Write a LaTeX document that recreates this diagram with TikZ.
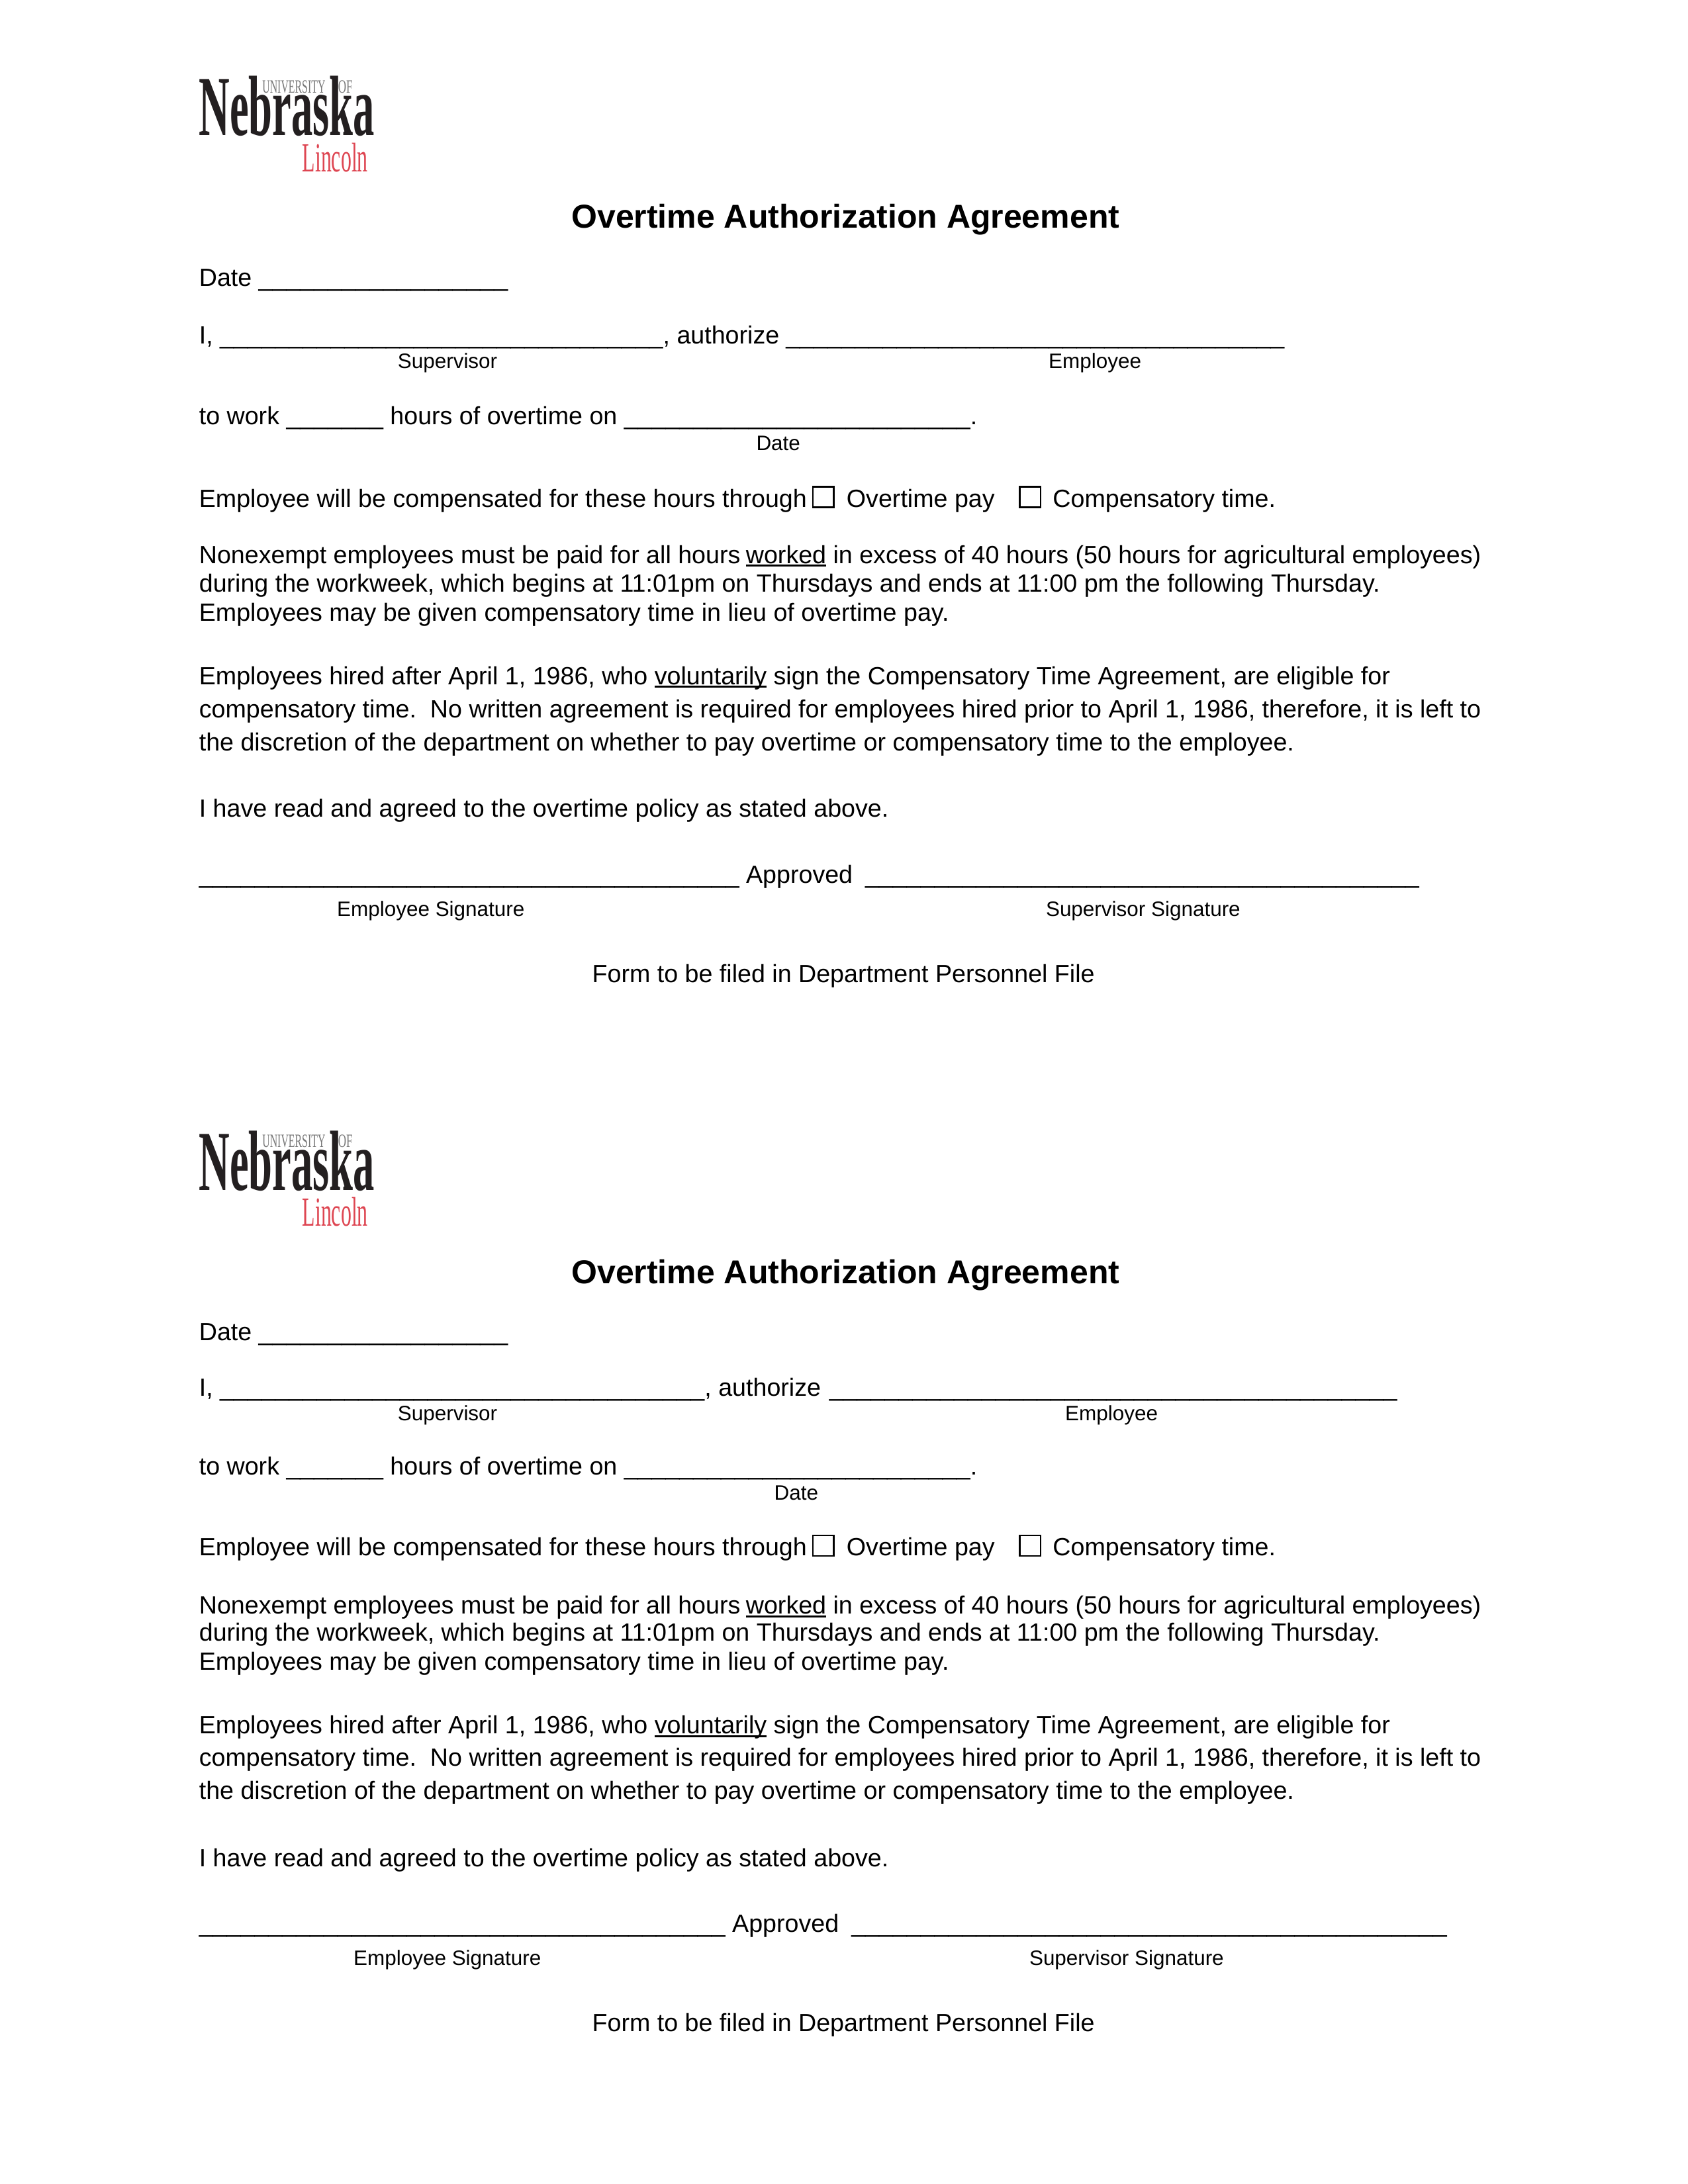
\documentclass[tikz,border=0pt]{standalone}
\usepackage{fontspec}
\setmainfont{Liberation Sans}
\newfontfamily\logofont{Liberation Serif}
\usetikzlibrary{positioning}
\definecolor{logored}{RGB}{222,70,82}
\definecolor{logogray}{RGB}{120,120,120}
\definecolor{logoblack}{RGB}{35,31,32}
\newcommand{\blanks}[1]{\foreach \i in {1,...,#1}{\_}}
\newcommand{\formuline}[1]{\setbox0\hbox{#1}\rlap{\rule[-1.2pt]{\wd0}{.7pt}}\box0\relax}
\newcommand{\formlogo}[1]{%
	 \node at (144,#1) [anchor=base west,inner sep=0pt,text=logoblack,xscale=.5,font=\logofont\bfseries\fontsize{31}{31}\selectfont] (nebraska#1) {Nebraska};
	 \node at (190,#1+31) [anchor=base west,inner sep=0pt,text=logogray,xscale=.56,font=\logofont\fontsize{6.8}{6.8}\selectfont] (university#1) {UNIVERSITY};
	 \node at (245,#1+31) [anchor=base west,inner sep=0pt,text=logogray,xscale=.6,font=\logofont\fontsize{6.8}{6.8}\selectfont] (of#1) {OF};
	 \node at (219,#1-26) [anchor=base west,inner sep=0pt,text=logored,xscale=.51,font=\logofont\fontsize{15}{15}\selectfont] (lincoln#1) {Lincoln};
}
\begin{document}
\begin{tikzpicture}[x=.5pt,y=.5pt,
	formtext/.style={anchor=base west,inner sep=0pt,font=\fontsize{9.03}{9}\selectfont},
	smalltext/.style={anchor=base west,inner sep=0pt,font=\fontsize{7.55}{7.5}\selectfont},
	titletext/.style={anchor=base west,inner sep=0pt,font=\bfseries\fontsize{12}{12}\selectfont},
	checkbox/.style={draw,line width=.6pt,minimum size=7.5pt,inner sep=0pt}]
	 \useasboundingbox (0,0) rectangle (1224,-1584);

	 \formlogo{-98.4}
	 \node at (414,-165.5) [titletext] (title1) {Overtime Authorization Agreement};
	 \node at (144,-207.5) [formtext] (date1) {Date \blanks{18}};
	 \node at (144,-249.5) [formtext] (name1) {I, \blanks{32}, authorize};
	 \node at (569.5,-249.5) [formtext] (nameb1) {\blanks{36}};
	 \node at (288,-267) [smalltext] (supervisor1) {Supervisor};
	 \node at (760,-267) [smalltext] (employee1) {Employee};
	 \node at (144,-308) [formtext] (hours1) {to work \blanks{7} hours of overtime on \blanks{25}.};
	 \node at (548,-326.5) [smalltext] (dateb1) {Date};
	 \node at (144,-368) [formtext] (through1) {Employee will be compensated for these hours through};
	 \node at (597,-360.5) [checkbox] (boxa1) {};
	 \node at (613.5,-368) [formtext] (pay1) {Overtime pay};
	 \node at (747,-360.5) [checkbox] (boxb1) {};
	 \node at (763,-368) [formtext] (comp1) {Compensatory time.};
	 \node at (144,-408.5) [formtext] (nonex1) {Nonexempt employees must be paid for all hours\hspace{2pt}\formuline{worked} in excess of 40 hours (50 hours for agricultural employees)};
	 \node at (144,-429.5) [formtext] (nonexb1) {during the workweek, which begins at 11:01pm on Thursdays and ends at 11:00 pm the following Thursday.};
	 \node at (144,-450.5) [formtext] (nonexc1) {Employees may be given compensatory time in lieu of overtime pay.};
	 \node at (144,-496.5) [formtext] (hired1) {Employees hired after April 1, 1986, who\hspace{2.5pt}\formuline{voluntarily} sign the Compensatory Time Agreement, are eligible for};
	 \node at (144,-520.5) [formtext] (hiredb1) {compensatory time.\ \ No written agreement is required for employees hired prior to April 1, 1986, therefore, it is left to};
	 \node at (144,-544.5) [formtext] (hiredc1) {the discretion of the department on whether to pay overtime or compensatory time to the employee.};
	 \node at (144,-592.5) [formtext] (read1) {I have read and agreed to the overtime policy as stated above.};
	 \node at (144,-640.5) [formtext] (sign1) {\blanks{39} Approved};
	 \node at (627,-640.5) [formtext] (signline1) {\blanks{40}};
	 \node at (244,-664.5) [smalltext] (signa1) {Employee Signature};
	 \node at (758,-664.5) [smalltext] (signb1) {Supervisor Signature};
	 \node at (429,-712.5) [formtext] (file1) {Form to be filed in Department Personnel File};

	 \formlogo{-863.2}
	 \node at (414,-931) [titletext] (title2) {Overtime Authorization Agreement};
	 \node at (144,-972) [formtext] (date2) {Date \blanks{18}};
	 \node at (144,-1012.5) [formtext] (name2) {I, \blanks{35}, authorize};
	 \node at (601,-1012.5) [formtext] (nameb2) {\blanks{41}};
	 \node at (288,-1030.5) [smalltext] (supervisor2) {Supervisor};
	 \node at (772,-1030.5) [smalltext] (employee2) {Employee};
	 \node at (144,-1069.5) [formtext] (hours2) {to work \blanks{7} hours of overtime on \blanks{25}.};
	 \node at (561,-1088) [smalltext] (dateb2) {Date};
	 \node at (144,-1128) [formtext] (through2) {Employee will be compensated for these hours through};
	 \node at (597,-1121) [checkbox] (boxa2) {};
	 \node at (613.5,-1128) [formtext] (pay2) {Overtime pay};
	 \node at (747,-1121) [checkbox] (boxb2) {};
	 \node at (763,-1128) [formtext] (comp2) {Compensatory time.};
	 \node at (144,-1170.5) [formtext] (nonex2) {Nonexempt employees must be paid for all hours\hspace{2pt}\formuline{worked} in excess of 40 hours (50 hours for agricultural employees)};
	 \node at (144,-1190) [formtext] (nonexb2) {during the workweek, which begins at 11:01pm on Thursdays and ends at 11:00 pm the following Thursday.};
	 \node at (144,-1211.5) [formtext] (nonexc2) {Employees may be given compensatory time in lieu of overtime pay.};
	 \node at (144,-1257.5) [formtext] (hired2) {Employees hired after April 1, 1986, who\hspace{2.5pt}\formuline{voluntarily} sign the Compensatory Time Agreement, are eligible for};
	 \node at (144,-1281) [formtext] (hiredb2) {compensatory time.\ \ No written agreement is required for employees hired prior to April 1, 1986, therefore, it is left to};
	 \node at (144,-1305) [formtext] (hiredc2) {the discretion of the department on whether to pay overtime or compensatory time to the employee.};
	 \node at (144,-1354) [formtext] (read2) {I have read and agreed to the overtime policy as stated above.};
	 \node at (144,-1401.5) [formtext] (sign2) {\blanks{38} Approved};
	 \node at (617,-1401.5) [formtext] (signline2) {\blanks{43}};
	 \node at (256,-1425.5) [smalltext] (signa2) {Employee Signature};
	 \node at (746,-1425.5) [smalltext] (signb2) {Supervisor Signature};
	 \node at (429,-1473.5) [formtext] (file2) {Form to be filed in Department Personnel File};
\end{tikzpicture}
\end{document}
